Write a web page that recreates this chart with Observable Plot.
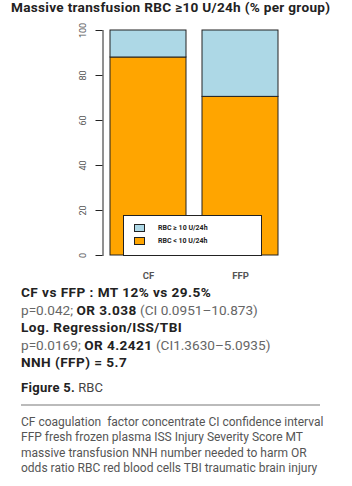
<!DOCTYPE html>
<html>
<head>
<meta charset="utf-8">
<script src="https://cdn.jsdelivr.net/npm/d3@7"></script>
<script src="https://cdn.jsdelivr.net/npm/@observablehq/plot@0.6"></script>
<style>
  body { margin: 0; background: #fff; font-family: Roboto, "Noto Sans", sans-serif; }
  #wrap { position: relative; width: 352px; height: 486px; }
  #title { position: absolute; left: 11px; top: 0; white-space: nowrap; font-weight: bold; font-size: 13.6px; letter-spacing: 0.3px; line-height: 15px; color: #222; }
  #chart { position: absolute; left: 0; top: 20px; }
  #legend { position: absolute; left: 123px; top: 215px; width: 137px; height: 39px; background: #fff; border: 1px solid #222; font-size: 7px; font-weight: bold; color: #222; }
  .lg { position: absolute; left: 10px; display: flex; align-items: center; }
  .sw { width: 9px; height: 6px; border: 1px solid #222; margin-right: 13px; }
  #stats { position: absolute; left: 21px; top: 284px; font-size: 13.6px; line-height: 17.6px; color: #666; white-space: nowrap; }
  #stats b { color: #222; letter-spacing: 0.45px; }
  #fig { position: absolute; left: 21px; top: 380px; font-size: 13px; color: #444; }
  #fig b { color: #222; letter-spacing: 0.3px; }
  #hr { position: absolute; left: 21px; top: 404px; width: 299px; height: 1.5px; background: #bbb; }
  #cap { position: absolute; left: 21px; top: 415px; font-size: 12px; line-height: 15.3px; color: #555; white-space: nowrap; }
</style>
</head>
<body>
<div id="wrap">
  <div id="title">Massive transfusion RBC ≥10 U/24h (% per group)</div>
  <div id="chart"></div>
  <div id="legend">
    <div class="lg" style="top:8px"><div class="sw" style="background:#ADD8E6"></div>RBC ≥ 10 U/24h</div>
    <div class="lg" style="top:21px"><div class="sw" style="background:#FFA500"></div>RBC &lt; 10 U/24h</div>
  </div>
  <div id="stats">
    <b>CF vs FFP : MT 12% vs 29.5%</b><br>
    p=0.042; <b>OR 3.038</b> (CI 0.0951–10.873)<br>
    <b>Log. Regression/ISS/TBI</b><br>
    p=0.0169; <b>OR 4.2421</b> (CI1.3630–5.0935)<br>
    <b>NNH (FFP) = 5.7</b>
  </div>
  <div id="fig"><b>Figure 5.</b> RBC</div>
  <div id="hr"></div>
  <div id="cap">CF coagulation&nbsp; factor concentrate CI confidence interval<br>FFP fresh frozen plasma ISS Injury Severity Score MT<br>massive transfusion NNH number needed to harm OR<br>odds ratio RBC red blood cells TBI traumatic brain injury</div>
</div>
<script>
const groups = ["CF", "FFP"];
const below10 = [88, 70.5];   // RBC < 10 U/24h (%)
const above10 = [12, 29.5];   // RBC >= 10 U/24h (%)
const yTicks = [0, 20, 40, 60, 80, 100];
const categories = ["RBC < 10 U/24h", "RBC ≥ 10 U/24h"];
const colors = ["#FFA500", "#ADD8E6"];

const data = [];
groups.forEach((g, i) => {
  data.push({group: g, cat: categories[0], value: below10[i], order: 0});
  data.push({group: g, cat: categories[1], value: above10[i], order: 1});
});

const chart = Plot.plot({
  width: 352,
  height: 265,
  marginLeft: 102.5,
  marginRight: 60,
  marginTop: 10,
  marginBottom: 30,
  style: {fontFamily: "Roboto, sans-serif", background: "transparent"},
  x: {domain: groups, range: [109.3, 278.5], paddingInner: 0.175, paddingOuter: 0, label: null},
  y: {domain: [0, 100], label: null},
  color: {domain: categories, range: colors},
  marks: [
    Plot.barY(data, Plot.stackY({order: "order"}, {x: "group", y: "value", fill: "cat", stroke: "#222", strokeWidth: 1})),
    Plot.axisY({ticks: yTicks, tickSize: 7, tickPadding: 10, tickRotate: -90, fontSize: 9, color: "#555", stroke: "#222", strokeOpacity: 1, label: null}),
    Plot.frame({anchor: "left", stroke: "#222"}),
    Plot.axisX({tickSize: 0, tickPadding: 17, fontSize: 9.5, fontWeight: "bold", color: "#555", label: null})
  ]
});
document.getElementById("chart").appendChild(chart);
</script>
</body>
</html>
